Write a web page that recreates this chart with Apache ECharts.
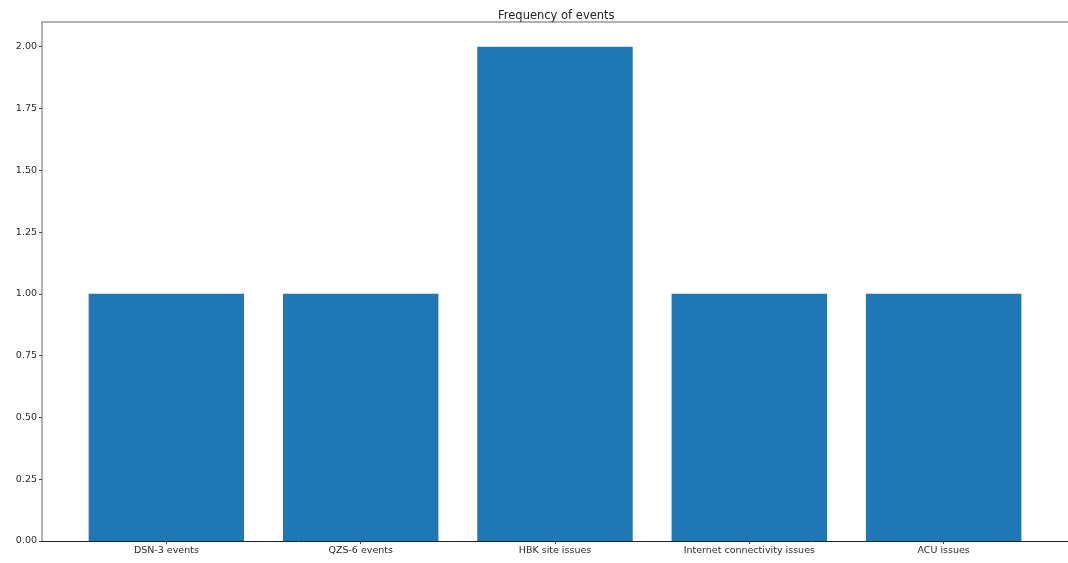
<!DOCTYPE html>
<html>
<head>
<meta charset="utf-8">
<script src="https://cdn.jsdelivr.net/npm/echarts@6/dist/echarts.min.js"></script>
<style>
html,body{margin:0;padding:0;background:#fff;}
#chart{width:1068px;height:563px;}
</style>
</head>
<body>
<div id="chart"></div>
<script>
const categories = ["DSN-3 events", "QZS-6 events", "HBK site issues", "Internet connectivity issues", "ACU issues"];
const counts = [1, 1, 2, 1, 1];
const yTicks = [0, 0.25, 0.5, 0.75, 1.0, 1.25, 1.5, 1.75, 2.0];
const xPositions = categories.map((c, i) => i);

const chart = echarts.init(document.getElementById('chart'), null, {renderer: 'canvas'});
const font = 'DejaVu Sans';
chart.setOption({
  animation: false,
  title: {
    text: 'Frequency of events',
    left: 493, top: 5,
    textStyle: {fontFamily: font, fontSize: 11.5, fontWeight: 'normal', color: '#222'}
  },
  grid: {left: 42, right: -1, top: 22, bottom: 22, containLabel: false},
  xAxis: [{
    type: 'value', min: -0.64, max: 4.64,
    axisLine: {show: true, onZero: false, lineStyle: {color: '#222', width: 1}},
    axisTick: {show: true, customValues: xPositions, length: 3, lineStyle: {color: '#444'}},
    axisLabel: {show: true, customValues: xPositions, margin: 5,
      formatter: v => categories[Math.round(v)] || '',
      fontFamily: font, fontSize: 9.5, color: '#2a2a2a'},
    splitLine: {show: false}
  }, {
    type: 'value', min: -0.64, max: 4.64, position: 'top',
    axisLine: {show: true, onZero: false, lineStyle: {color: '#9a9a9a', width: 1.5}},
    axisTick: {show: false}, axisLabel: {show: false}, splitLine: {show: false}
  }],
  yAxis: {
    type: 'value', min: 0, max: 2.1,
    axisLine: {show: true, onZero: false, lineStyle: {color: '#9a9a9a', width: 1.5}},
    axisTick: {show: true, customValues: yTicks, length: 3, lineStyle: {color: '#444'}},
    axisLabel: {show: true, customValues: yTicks, margin: 5,
      formatter: v => v.toFixed(2),
      fontFamily: font, fontSize: 9.5, color: '#2a2a2a'},
    splitLine: {show: false}
  },
  series: [{
    type: 'bar',
    xAxisIndex: 0,
    data: counts.map((v, i) => [xPositions[i], v]),
    barWidth: '80%',
    itemStyle: {color: '#1f77b4'}
  }]
});
</script>
</body>
</html>
